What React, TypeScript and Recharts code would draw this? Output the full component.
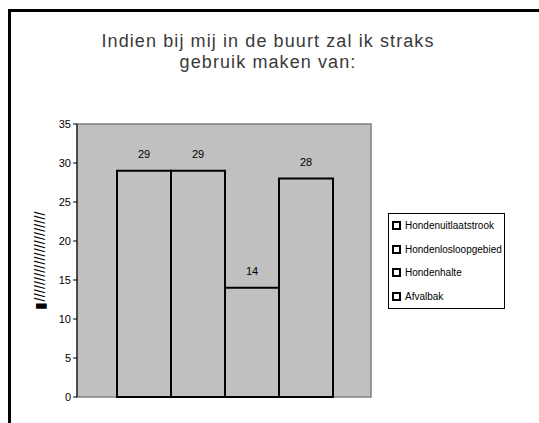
import { Bar, BarChart, CartesianGrid, LabelList, Legend, ReferenceArea, XAxis, YAxis, Label } from 'recharts'

const categories = ['']
const seriesNames = ['Hondenuitlaatstrook', 'Hondenlosloopgebied', 'Hondenhalte', 'Afvalbak']
const seriesValues = [29, 29, 14, 28]
const yTicks = [0, 5, 10, 15, 20, 25, 30, 35]
const titleLines = ['Indien bij mij in de buurt zal ik straks', 'gebruik maken van:']
const yAxisLabel = '▮' + '/'.repeat(22)

const font = '"Liberation Sans", Arial, sans-serif'

const data = categories.map((cat) => {
  const row: Record<string, string | number> = { cat }
  seriesNames.forEach((name, i) => {
    row[name] = seriesValues[i]
  })
  return row
})

const axisTick = { fill: '#000000', fontSize: 11, fontFamily: font }

function LegendBox() {
  return (
    <div
      style={{
        border: '1px solid #000000',
        background: '#ffffff',
        padding: '0 0 0 3px',
        boxSizing: 'border-box',
        width: 117,
        fontFamily: font,
        fontSize: 10,
        color: '#000000',
        whiteSpace: 'nowrap',
      }}
    >
      {seriesNames.map((name) => (
        <div key={name} style={{ display: 'flex', alignItems: 'center', height: 23.5 }}>
          <span
            style={{
              display: 'inline-block',
              flexShrink: 0,
              width: 5,
              height: 5,
              border: '2px solid #000000',
              background: '#ffffff',
              marginRight: 4,
            }}
          />
          <span>{name}</span>
        </div>
      ))}
    </div>
  )
}

function RotatedLabel(props: any) {
  const vb = props.viewBox || { x: 0, y: 0, width: 0, height: 0 }
  const x = vb.x - 1
  const y = vb.y + vb.height / 2
  return (
    <text
      x={x}
      y={y}
      transform={`rotate(-90 ${x} ${y})`}
      textAnchor="middle"
      dominantBaseline="central"
      fontFamily={font}
      fontSize={14}
      letterSpacing={0.2}
      fill="#000000"
    >
      {yAxisLabel}
    </text>
  )
}

export default function App() {
  return (
    <div
      style={{
        position: 'fixed',
        left: 8,
        top: 9,
        width: 531,
        height: 414,
        borderLeft: '3px solid #000000',
        borderTop: '3px solid #000000',
        boxSizing: 'border-box',
        overflow: 'hidden',
        background: '#ffffff',
      }}
    >
      <div
        style={{
          position: 'absolute',
          left: 0,
          top: 19,
          width: 514,
          textAlign: 'center',
          fontFamily: font,
          fontSize: 18,
          lineHeight: '21px',
          letterSpacing: 1.1,
          color: '#3a3a3a',
        }}
      >
        {titleLines.map((t) => (
          <div key={t}>{t}</div>
        ))}
      </div>
      <BarChart
        width={525}
        height={408}
        data={data}
        margin={{ top: 112, right: 48, left: 30, bottom: 23 }}
        barCategoryGap={40}
        barGap={0}
        style={{ position: 'absolute', left: 0, top: 0 }}
      >
        <CartesianGrid horizontal={false} vertical={false} fill="#c0c0c0" fillOpacity={1} />
        <ReferenceArea y1={0} y2={35} fill="none" stroke="#808080" strokeWidth={1.5} />
        <XAxis dataKey="cat" hide />
        <YAxis
          domain={[0, 35]}
          ticks={yTicks}
          width={36}
          tick={axisTick}
          tickSize={4}
          tickMargin={2}
          axisLine={{ stroke: '#000000', strokeWidth: 1 }}
          tickLine={{ stroke: '#000000' }}
        >
          <Label content={<RotatedLabel />} />
        </YAxis>
        <Legend
          layout="vertical"
          align="right"
          verticalAlign="middle"
          content={<LegendBox />}
          wrapperStyle={{ left: 377, top: 201, width: 117 }}
        />
        {seriesNames.map((name) => (
          <Bar key={name} dataKey={name} fill="#c0c0c0" stroke="#000000" strokeWidth={2} isAnimationActive={false}>
            <LabelList dataKey={name} position="top" offset={13} fill="#000000" fontSize={11} fontFamily={font} />
          </Bar>
        ))}
      </BarChart>
    </div>
  )
}
